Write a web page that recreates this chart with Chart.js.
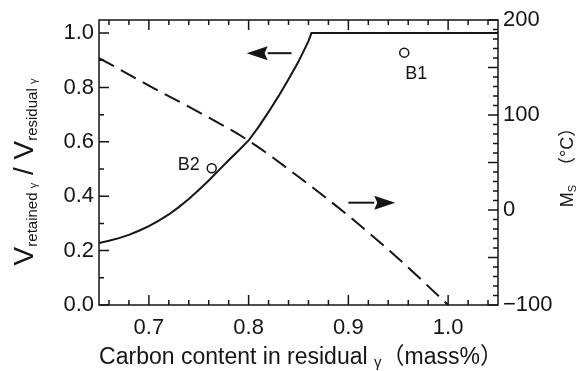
<!DOCTYPE html>
<html>
<head>
<meta charset="utf-8">
<script src="https://cdn.jsdelivr.net/npm/chart.js@4.4.1/dist/chart.umd.min.js"></script>
<style>
    body { margin: 0; background: #fff; }
    #wrap { width: 579px; height: 371px; }
</style>
</head>
<body>
<div id="wrap"><canvas id="ms-chart"></canvas></div>
<script>
// solid curve: V retained / V residual (left axis)
const carbonSolid = [0.65, 0.66, 0.67, 0.68, 0.69, 0.70, 0.71, 0.72, 0.73, 0.74, 0.75, 0.76, 0.77, 0.78, 0.79, 0.80, 0.81, 0.82, 0.83, 0.84, 0.85, 0.86, 0.863, 1.05];
const retainedRatio = [0.228, 0.236, 0.246, 0.258, 0.273, 0.29, 0.31, 0.333, 0.36, 0.39, 0.423, 0.458, 0.495, 0.532, 0.568, 0.605, 0.655, 0.71, 0.768, 0.83, 0.895, 0.97, 1.0, 1.0];
// dashed curve: Ms temperature (right axis)
const carbonDashed = [0.65, 0.70, 0.75, 0.80, 0.85, 0.90, 0.95, 1.00];
const msTemp = [160, 131, 103, 73, 35, -6, -51, -100];
// measured samples
const sampleNames = ['B1', 'B2'];
const sampleCarbon = [0.956, 0.763];
const sampleRatio = [0.928, 0.503];
// arrows (tail -> head), which axis they point to
const arrowAxis = ['y', 'y2'];
const arrowFromX = [0.843, 0.900];
const arrowToX = [0.798, 0.947];
const arrowY = [0.926, 7.7];
// tick labels
const xTickLabels = [0.7, 0.8, 0.9, 1.0];
const yTickLabels = [0.0, 0.2, 0.4, 0.6, 0.8, 1.0];
const y2TickLabels = [-100, 0, 100, 200];

const fontFamily = "'Liberation Sans', 'Noto Sans CJK JP', Arial, sans-serif";
const ink = '#151515';

function steps(lo, hi, step) {
    const out = [];
    for (let v = lo; v <= hi + step / 2; v += step) out.push(Math.round(v * 1000) / 1000);
    return out;
}
const xMinor = steps(0.66, 1.04, 0.02);
const yMinor = steps(0, 1.0, 0.1);
const y2Minor = steps(-100, 200, 10);
const has = (arr, v) => arr.some(a => Math.abs(a - v) < 1e-6);

// inward ticks + frame
const frameTicks = {
    id: 'frameTicks',
    afterDatasetsDraw(chart) {
        const { ctx, chartArea: a, scales } = chart;
        ctx.save();
        ctx.strokeStyle = ink;
        ctx.lineWidth = 1.5;
        ctx.beginPath();
        scales.x.ticks.forEach(t => {
            const px = scales.x.getPixelForValue(t.value);
            const len = has(xTickLabels, t.value) ? 10 : 5;
            ctx.moveTo(px, a.bottom); ctx.lineTo(px, a.bottom - len);
            ctx.moveTo(px, a.top); ctx.lineTo(px, a.top + len);
        });
        scales.y.ticks.forEach(t => {
            const py = scales.y.getPixelForValue(t.value);
            const len = has(yTickLabels, t.value) ? 10 : 5;
            ctx.moveTo(a.left, py); ctx.lineTo(a.left + len, py);
        });
        scales.y2.ticks.forEach(t => {
            const py = scales.y2.getPixelForValue(t.value);
            const len = Math.round(t.value) % 50 === 0 ? 10 : 5;
            ctx.moveTo(a.right, py); ctx.lineTo(a.right - len, py);
        });
        ctx.stroke();
        ctx.strokeRect(a.left, a.top, a.right - a.left, a.bottom - a.top);

        // arrows
        ctx.fillStyle = ink;
        ctx.lineWidth = 2;
        arrowAxis.forEach((ax, i) => {
            const x0 = scales.x.getPixelForValue(arrowFromX[i]);
            const x1 = scales.x.getPixelForValue(arrowToX[i]);
            const py = scales[ax].getPixelForValue(arrowY[i]);
            const dir = Math.sign(x1 - x0);
            const head = 21;
            ctx.beginPath();
            ctx.moveTo(x0, py); ctx.lineTo(x1 - dir * head, py);
            ctx.stroke();
            ctx.beginPath();
            ctx.moveTo(x1, py);
            ctx.lineTo(x1 - dir * head, py - 7);
            ctx.lineTo(x1 - dir * (head - 3), py);
            ctx.lineTo(x1 - dir * head, py + 7);
            ctx.closePath();
            ctx.fill();
        });

        // sample labels
        ctx.font = '18px ' + fontFamily;
        ctx.textBaseline = 'middle';
        sampleNames.forEach((name, i) => {
            const px = scales.x.getPixelForValue(sampleCarbon[i]);
            const py = scales.y.getPixelForValue(sampleRatio[i]);
            if (name === 'B1') {
                ctx.textAlign = 'center';
                ctx.fillText(name, px + 12, py + 21);
            } else {
                ctx.textAlign = 'right';
                ctx.fillText(name, px - 12, py - 3);
            }
        });
        ctx.restore();
    }
};

function drawRun(ctx, parts, cx, cy) {
    let total = 0;
    parts.forEach(p => {
        ctx.font = p.size + 'px ' + fontFamily;
        p.w = ctx.measureText(p.text).width;
        total += p.w;
    });
    let x = cx - total / 2;
    parts.forEach(p => {
        ctx.font = p.size + 'px ' + fontFamily;
        ctx.fillText(p.text, x, cy + (p.dy || 0));
        x += p.w;
    });
}

// axis titles with subscripts
const axisTitles = {
    id: 'axisTitles',
    afterDraw(chart) {
        const { ctx } = chart;
        ctx.save();
        ctx.fillStyle = ink;
        ctx.textAlign = 'left';
        ctx.textBaseline = 'alphabetic';

        drawRun(ctx, [
            { text: 'Carbon content in residual ', size: 23 },
            { text: 'γ', size: 15, dy: 3 },
            { text: '（mass%）', size: 23 }
        ], 301, 364);

        ctx.save();
        ctx.translate(33, 172);
        ctx.rotate(-Math.PI / 2);
        drawRun(ctx, [
            { text: 'V', size: 28 },
            { text: 'retained ', size: 15, dy: 4 },
            { text: 'γ', size: 11, dy: 4 },
            { text: ' / ', size: 28 },
            { text: 'V', size: 28 },
            { text: 'residual ', size: 15, dy: 4 },
            { text: 'γ', size: 11, dy: 4 }
        ], 0, 0);
        ctx.restore();

        ctx.save();
        ctx.translate(573, 163);
        ctx.rotate(-Math.PI / 2);
        drawRun(ctx, [
            { text: 'M', size: 18 },
            { text: 'S', size: 11, dy: 3 },
            { text: '  （°C）', size: 18 }
        ], 0, 0);
        ctx.restore();
        ctx.restore();
    }
};

const tickFont = { family: fontFamily, size: 22 };
const ctxMs = document.getElementById('ms-chart').getContext('2d');
const chart = new Chart(ctxMs, {
    type: 'line',
    data: {
        datasets: [{
            label: 'retained / residual',
            data: carbonSolid.map((c, i) => ({ x: c, y: retainedRatio[i] })),
            yAxisID: 'y',
            borderColor: ink,
            borderWidth: 2,
            pointRadius: 0,
            tension: 0
        }, {
            label: 'Ms',
            data: carbonDashed.map((c, i) => ({ x: c, y: msTemp[i] })),
            yAxisID: 'y2',
            borderColor: ink,
            borderWidth: 2,
            borderDash: [17, 8],
            pointRadius: 0,
            cubicInterpolationMode: 'monotone'
        }, {
            label: 'samples',
            data: sampleCarbon.map((c, i) => ({ x: c, y: sampleRatio[i] })),
            yAxisID: 'y',
            showLine: false,
            pointRadius: 4.5,
            pointBackgroundColor: '#fff',
            pointBorderColor: ink,
            pointBorderWidth: 1.5
        }]
    },
    options: {
        responsive: true,
        maintainAspectRatio: false,
        animation: false,
        layout: { padding: { top: 20, left: 0, right: 0, bottom: 0 }, autoPadding: false },
        plugins: { legend: { display: false }, tooltip: { enabled: false } },
        scales: {
            x: {
                type: 'linear',
                min: 0.65,
                max: 1.05,
                grid: { display: false, drawTicks: false },
                border: { display: false },
                afterBuildTicks: s => { s.ticks = xMinor.map(v => ({ value: v })); },
                afterFit: s => { s.height = 66; },
                ticks: {
                    autoSkip: false, maxRotation: 0, padding: 10, color: ink, font: tickFont,
                    callback: v => has(xTickLabels, v) ? v.toFixed(1) : ''
                }
            },
            y: {
                type: 'linear',
                position: 'left',
                min: 0,
                max: 1.048,
                grid: { display: false, drawTicks: false },
                border: { display: false },
                afterBuildTicks: s => { s.ticks = yMinor.map(v => ({ value: v })); },
                afterFit: s => { s.width = 99; },
                ticks: {
                    autoSkip: false, padding: 5, color: ink, font: tickFont,
                    callback: v => has(yTickLabels, v) ? v.toFixed(1) : ''
                }
            },
            y2: {
                type: 'linear',
                position: 'right',
                min: -100,
                max: 200,
                grid: { display: false, drawTicks: false },
                border: { display: false },
                afterBuildTicks: s => { s.ticks = y2Minor.map(v => ({ value: v })); },
                afterFit: s => { s.width = 81; },
                ticks: {
                    autoSkip: false, padding: 5, color: ink, font: tickFont,
                    callback: v => has(y2TickLabels, v) ? (v < 0 ? '\u2212' + Math.abs(v) : String(v)) : ''
                }
            }
        }
    },
    plugins: [frameTicks, axisTitles]
});
</script>
</body>
</html>
